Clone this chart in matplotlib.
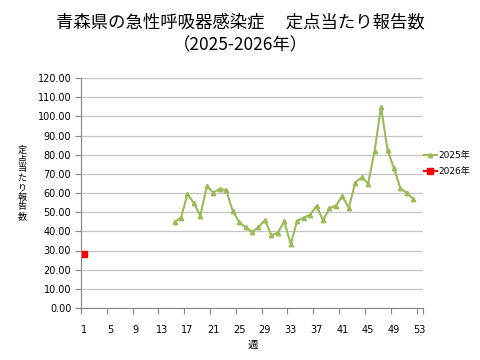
import matplotlib
matplotlib.use("Agg")
import matplotlib.pyplot as plt

plt.rcParams['font.family'] = ['DejaVu Sans', 'Noto Sans CJK JP']

title_line1 = "青森県の急性呼吸器感染症　 定点当たり報告数"
title_line2 = "（2025-2026年）"
y_label = "定点当たり報告数"
x_label = "週"

weeks_2025 = list(range(15, 53))
values_2025 = [45.0, 47.1, 59.5, 54.6, 48.2, 63.6, 60.2, 62.2, 61.4, 50.8,
               44.9, 42.1, 39.8, 42.1, 45.9, 37.9, 39.3, 45.2, 33.4, 45.5,
               47.1, 48.7, 53.2, 45.7, 52.0, 53.4, 58.3, 52.2, 65.4, 68.2,
               64.9, 81.9, 105.0, 82.4, 72.9, 62.4, 60.0, 56.9]
weeks_2026 = [1]
values_2026 = [28.3]

xtick_weeks = list(range(1, 54, 4))
ytick_values = list(range(0, 121, 10))

fig = plt.figure(figsize=(4.8, 3.6), dpi=100)
ax = fig.add_axes([81/480, 1-308/360, (423-81)/480, (308-78)/360])

grid_color = '#C4C4C4'
ax.set_ylim(0, 120)
ax.set_xlim(0.5, 53.5)
ax.set_yticks(ytick_values)
ax.set_yticklabels([f"{v:.2f}" for v in ytick_values], fontsize=7)
ax.yaxis.grid(True, color=grid_color, linewidth=0.9)
ax.set_axisbelow(True)

# category axis: ticks between categories, labels on categories
ax.set_xticks([w - 0.5 for w in range(1, 54, 4)] + [53.5])
ax.set_xticklabels([])
ax.set_xticks(xtick_weeks, minor=True)
ax.set_xticklabels([str(w) for w in xtick_weeks], minor=True, fontsize=7)
ax.tick_params(axis='x', which='minor', length=0, pad=12)
ax.tick_params(axis='x', which='major', length=4, color='#868686')
ax.tick_params(axis='y', length=4, color='#868686', pad=3)

for s in ['top', 'right']:
    ax.spines[s].set_visible(False)
for s in ['left', 'bottom']:
    ax.spines[s].set_color('#868686')
    ax.spines[s].set_linewidth(0.8)

ax.plot(weeks_2025, values_2025, color='#9BBB59', linewidth=1.5,
        marker='^', markersize=3.2, label='2025年')
ax.plot(weeks_2026, values_2026, color='#FF0000', linewidth=1.5,
        marker='s', markersize=4.5, label='2026年')

fig.legend(loc='center left', bbox_to_anchor=(424/480, 1-163.5/360), frameon=False,
           fontsize=6.5, handlelength=1.4, handletextpad=0.15, labelspacing=0.75,
           borderpad=0, borderaxespad=0)

fig.text(0.5, 1-22/360, title_line1, ha='center', va='center', fontsize=12.5,
         family=['Noto Sans CJK JP'])
fig.text(0.5, 1-45/360, title_line2, ha='center', va='center', fontsize=12.5,
         family=['Noto Sans CJK JP'])

# vertical (stacked) y-axis title, one upright character per line
for i, ch in enumerate(y_label):
    fig.text(22/480, 1-(150 + 9.5*i)/360, ch, ha='center', va='center',
             fontsize=6.5, family=['Noto Sans CJK JP'])
fig.text(253/480, 1-345/360, x_label, ha='center', va='center', fontsize=7.5,
         family=['Noto Sans CJK JP'])

fig.savefig("out.png", dpi=100)
